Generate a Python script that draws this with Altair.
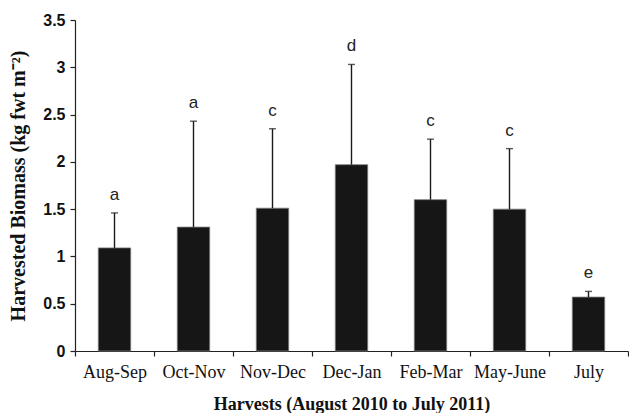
import altair as alt
import pandas as pd

harvests = ["Aug-Sep", "Oct-Nov", "Nov-Dec", "Dec-Jan", "Feb-Mar", "May-June", "July"]
biomass = [1.09, 1.31, 1.51, 1.97, 1.60, 1.50, 0.57]
upper = [1.46, 2.43, 2.35, 3.03, 2.24, 2.14, 0.63]
letters = ["a", "a", "c", "d", "c", "c", "e"]
y_ticks = [0, 0.5, 1, 1.5, 2, 2.5, 3, 3.5]

df = pd.DataFrame({"harvest": harvests, "biomass": biomass, "upper": upper, "letter": letters})

x_enc = alt.X("harvest:N", sort=harvests,
              scale=alt.Scale(paddingInner=0, paddingOuter=0),
              axis=alt.Axis(title="Harvests (August 2010 to July 2011)", labelAngle=0,
                            tickBand="extent", tickSize=5, labelPadding=7,
                            titlePadding=14))
y_enc = alt.Y("biomass:Q",
              scale=alt.Scale(domain=[0, 3.5], nice=False),
              axis=alt.Axis(title="Harvested Biomass (kg fwt m\u207b\u00b2)", values=y_ticks,
                            format="~g", grid=False, tickSize=5, labelPadding=5,
                            titlePadding=14))

base = alt.Chart(df)

bars = base.mark_bar(color="#161616", stroke="#7a7a7a", strokeWidth=0.8,
                     width=alt.RelativeBandSize(0.41)).encode(x=x_enc, y=y_enc)

err = base.mark_rule(color="#1a1a1a", strokeWidth=1.4).encode(
    x=alt.X("harvest:N", sort=harvests),
    y="biomass:Q", y2="upper:Q")

caps = base.mark_tick(color="#1a1a1a", thickness=1.4, size=7, orient="horizontal").encode(
    x=alt.X("harvest:N", sort=harvests),
    y="upper:Q")

labels = base.mark_text(font="Liberation Sans", fontSize=17, color="#222",
                        baseline="alphabetic", dy=-13).encode(
    x=alt.X("harvest:N", sort=harvests),
    y="upper:Q", text="letter:N")

chart = alt.layer(bars, err, caps, labels).properties(
    width=553, height=331,
    padding={"left": 0, "top": 4, "right": 0, "bottom": 0},
).configure_view(stroke=None).configure_axis(
    domainColor="#222", tickColor="#222", domainWidth=1.2, tickWidth=1.2,
    labelColor="#111", titleColor="#111",
).configure_axisX(
    labelFont="Liberation Serif", labelFontSize=18, labelFontWeight="normal",
    titleFont="Liberation Serif", titleFontSize=18, titleFontWeight="bold",
).configure_axisY(
    labelFont="Liberation Sans", labelFontSize=16, labelFontWeight="bold",
    titleFont="Liberation Serif", titleFontSize=20, titleFontWeight="bold",
)

chart.save("out.html", embed_options={"renderer": "svg", "actions": False})
